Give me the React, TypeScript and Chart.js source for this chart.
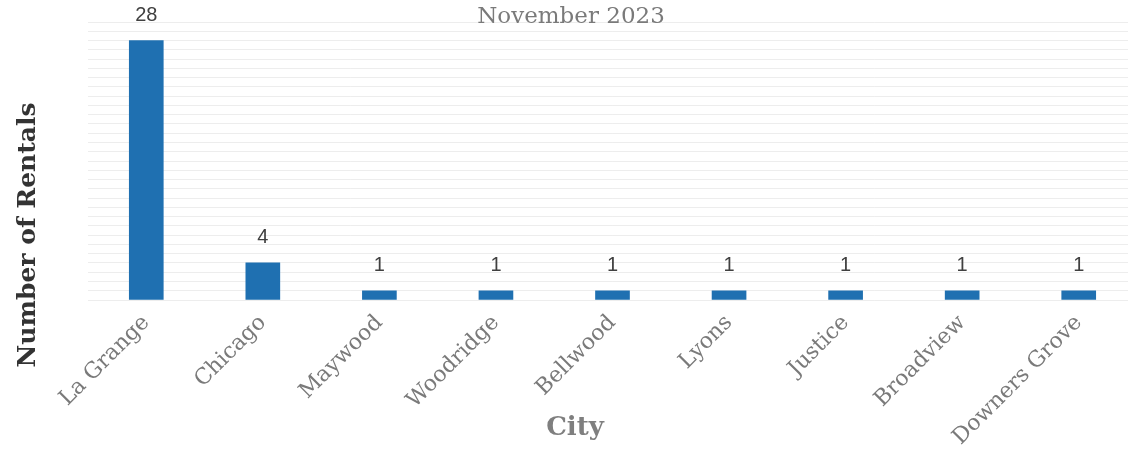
import React, { useEffect, useRef } from "react";
import { Chart, registerables } from "chart.js";

Chart.register(...registerables);

const cities = ["La Grange", "Chicago", "Maywood", "Woodridge", "Bellwood", "Lyons", "Justice", "Broadview", "Downers Grove"];
const rentals = [28, 4, 1, 1, 1, 1, 1, 1, 1];
const titleText = "November 2023";
const yTitle = "Number of Rentals";
const xTitle = "City";

const overlay = {
  id: "overlay",
  afterDatasetsDraw(chart: any) {
    const ctx = chart.ctx;
    const meta = chart.getDatasetMeta(0);
    ctx.save();
    ctx.fillStyle = "#404040";
    ctx.font = "20px 'Liberation Sans', sans-serif";
    ctx.textAlign = "center";
    ctx.textBaseline = "middle";
    meta.data.forEach((bar: any, i: number) => {
      ctx.fillText(String(rentals[i]), bar.x, bar.y - 25);
    });
    ctx.restore();
  },
  afterDraw(chart: any) {
    const ctx = chart.ctx;
    ctx.save();
    ctx.textAlign = "center";
    ctx.textBaseline = "middle";
    ctx.fillStyle = "#7a7a7a";
    ctx.font = "23px 'DejaVu Serif', serif";
    ctx.fillText(titleText, 571, 17);
    ctx.fillStyle = "#7f7f7f";
    ctx.font = "bold 26px 'DejaVu Serif', serif";
    ctx.fillText(xTitle, 575, 428);
    ctx.translate(28, 235);
    ctx.rotate(-Math.PI / 2);
    ctx.fillStyle = "#333333";
    ctx.font = "bold 25px 'DejaVu Serif', serif";
    ctx.fillText(yTitle, 0, 0);
    ctx.restore();
  },
};

export default function App() {
  const ref = useRef<HTMLCanvasElement | null>(null);
  useEffect(() => {
    if (!ref.current) return;
    const chart = new Chart(ref.current, {
      type: "bar",
      data: {
        labels: cities,
        datasets: [
          {
            data: rentals,
            backgroundColor: "#1f70b1",
            barThickness: 34,
          },
        ],
      },
      options: {
        animation: false,
        responsive: false,
        layout: { padding: { top: 22, left: 0, right: 0, bottom: 0 } },
        plugins: { legend: { display: false }, tooltip: { enabled: false } },
        scales: {
          x: {
            grid: { display: false },
            border: { display: false },
            ticks: {
              color: "#7a7a7a",
              font: { family: "'DejaVu Serif', serif", size: 22 },
              minRotation: 45,
              maxRotation: 45,
              padding: 2,
            },
            afterFit: (s: any) => {
              s.height = 160;
            },
          },
          y: {
            min: 0,
            max: 30,
            ticks: { display: false, stepSize: 1 },
            grid: { color: "rgba(0,0,0,0.07)", drawTicks: false },
            border: { display: false },
            afterFit: (s: any) => {
              s.width = 88;
            },
          },
        },
      },
      plugins: [overlay],
    });
    return () => chart.destroy();
  }, []);
  return (
    <div style={{ position: "fixed", left: 0, top: 0, width: 1128, height: 460, overflow: "hidden", background: "#fff" }}>
      <canvas ref={ref} width={1137} height={460} style={{ width: 1137, height: 460, display: "block" }} />
    </div>
  );
}
